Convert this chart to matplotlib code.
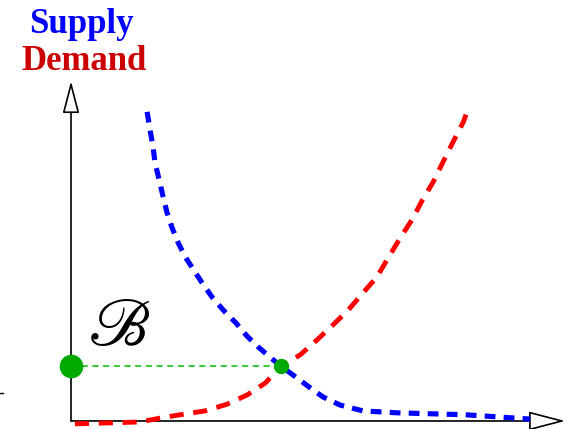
import matplotlib.pyplot as plt
from matplotlib.patches import FancyArrowPatch

plt.rcParams['mathtext.fontset'] = 'stix'

# Кривые спроса и предложения
supply_x = [1.54, 1.60, 1.66, 1.70, 1.78, 1.86, 1.94, 2.04, 2.17, 2.31, 2.65, 2.87, 3.10, 3.34, 3.56,
            3.79, 4.05, 4.25, 4.57, 4.84, 5.10, 5.45, 5.91, 6.60, 7.98, 9.29]
supply_y = [6.44, 6.06, 5.71, 5.38, 5.04, 4.69, 4.35, 4.04, 3.71, 3.42, 2.88, 2.56, 2.29, 2.04, 1.77,
            1.54, 1.31, 1.14, 0.90, 0.69, 0.50, 0.33, 0.21, 0.17, 0.13, 0.04]
demand_x = [0.08, 0.79, 1.40, 1.80, 2.21, 2.71, 3.16, 3.56, 3.93, 4.25, 4.64, 4.98, 5.30, 5.61, 5.91,
            6.19, 6.42, 6.66, 6.90, 7.11, 7.33, 7.53, 7.73, 7.94, 8.00]
demand_y = [-0.06, -0.04, -0.02, 0.06, 0.13, 0.21, 0.35, 0.54, 0.79, 1.14, 1.38, 1.69, 2.00, 2.31, 2.67,
            3.00, 3.40, 3.81, 4.19, 4.60, 4.98, 5.40, 5.81, 6.23, 6.40]
eq_x, eq_y = 4.25, 1.14

fig = plt.figure(figsize=(5.79, 4.29), dpi=100)
ax = fig.add_axes([0, 0, 1, 1])
ax.set_xlim(-1.437, 10.28)
ax.set_ylim(-0.167, 8.77)
ax.axis('off')

# Оси со стрелками
ax.add_patch(FancyArrowPatch((0, 0), (10.0, 0), arrowstyle='-|>,head_length=1.15,head_width=0.3',
                             mutation_scale=20, lw=1.2, ec='black', fc='white', shrinkA=0, shrinkB=0, zorder=1))
ax.add_patch(FancyArrowPatch((0, 0), (0, 7.08), arrowstyle='-|>,head_length=1.0,head_width=0.26',
                             mutation_scale=20, lw=1.2, ec='black', fc='white', shrinkA=0, shrinkB=0, zorder=1))
ax.plot([-1.437, -1.38], [0.58, 0.58], color='black', lw=1)  # маленькая засечка слева

# Кривые
ax.plot(supply_x, supply_y, color='#0000ff', lw=3.7, dashes=(2.1, 1.6), zorder=3)
ax.plot(demand_x, demand_y, color='#ff0000', lw=3.5, dashes=(2.9, 2.0), zorder=3)

# Равновесие
ax.plot([0, eq_x], [eq_y, eq_y], color='#00bb00', lw=1.1, dashes=(4, 3), zorder=2)
ax.plot([0], [eq_y], 'o', color='#00aa00', ms=16, zorder=4)
ax.plot([eq_x], [eq_y], 'o', color='#00aa00', ms=10, zorder=4)

ax.text(0.97, 1.98, r'$\mathscr{B}$', fontsize=48, ha='center', va='center')

# Подписи
ax.text(0.22, 8.08, 'Supply', color='#0000ff', fontsize=25, fontweight='bold',
        family='Liberation Serif', ha='center', va='baseline')
ax.text(0.26, 7.31, 'Demand', color='#cc0000', fontsize=25, fontweight='bold',
        family='Liberation Serif', ha='center', va='baseline')

plt.savefig('out.png', dpi=100)
